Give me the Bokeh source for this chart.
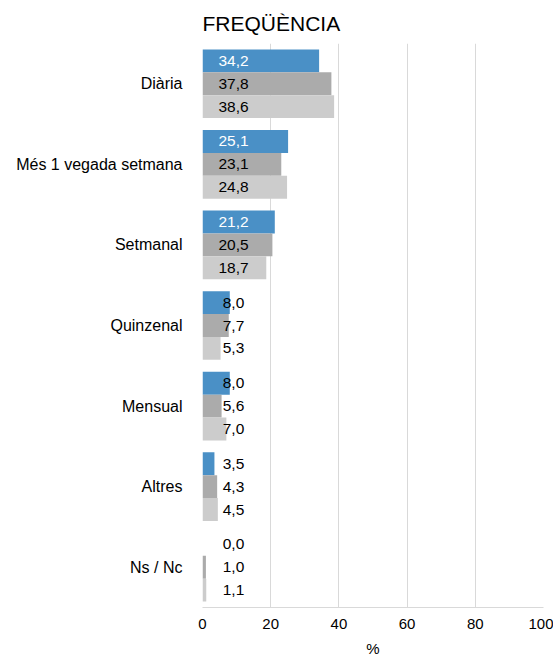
from bokeh.plotting import figure
from bokeh.models import ColumnDataSource, FactorRange, FixedTicker
from bokeh.transform import dodge
from bokeh.embed import file_html
from bokeh.resources import INLINE

categories = ["Diària", "Més 1 vegada setmana", "Setmanal", "Quinzenal", "Mensual", "Altres", "Ns / Nc"]
serie_a = [34.2, 25.1, 21.2, 8.0, 8.0, 3.5, 0.0]
serie_b = [37.8, 23.1, 20.5, 7.7, 5.6, 4.3, 1.0]
serie_c = [38.6, 24.8, 18.7, 5.3, 7.0, 4.5, 1.1]
x_ticks = [0, 20, 40, 60, 80, 100]

colors = ["#4A90C6", "#ABABAB", "#CCCCCC"]
series = [serie_a, serie_b, serie_c]
offsets = [0.284, 0.0, -0.284]

p = figure(width=553, height=659, output_backend="svg", toolbar_location=None,
           y_range=FactorRange(factors=list(reversed(categories)), range_padding=0),
           x_range=(0, 100), title="FREQÜÈNCIA",
           min_border_left=202, min_border_right=10, min_border_top=0, min_border_bottom=0)

p.title.text_font = "Liberation Sans"
p.title.text_font_size = "21px"
p.title.text_font_style = "normal"
p.title.text_color = "#000000"
p.title.align = "left"
p.title.offset = 0
p.title.standoff = 18

for i, (vals, col, off) in enumerate(zip(series, colors, offsets)):
    labels = [f"{v:.1f}".replace(".", ",") for v in vals]
    tcol = ["#FFFFFF" if (i == 0 and v > 15) else "#000000" for v in vals]
    src = ColumnDataSource(dict(cat=categories, val=vals, lab=labels, tcol=tcol, zero=[0]*len(vals)))
    p.hbar(y=dodge("cat", off, range=p.y_range), right="val", left=0, height=0.284,
           color=col, line_color=None, source=src)
    p.text(x="zero", y=dodge("cat", off, range=p.y_range), text="lab", source=src,
           x_offset=31, text_align="center", text_baseline="middle",
           text_font_size="15.5px", text_color="tcol", text_font={"value": "Liberation Sans"})

p.xaxis.ticker = FixedTicker(ticks=x_ticks)
p.xaxis.axis_label = "%"
p.xaxis.axis_label_text_font = "Liberation Sans"
p.xaxis.axis_label_text_font_size = "15px"
p.xaxis.axis_label_text_font_style = "normal"
p.xaxis.axis_label_text_color = "#000000"
p.xaxis.axis_label_standoff = 8
p.xaxis.major_label_text_font = "Liberation Sans"
p.xaxis.major_label_text_font_size = "15px"
p.xaxis.major_label_text_color = "#000000"
p.xaxis.major_label_standoff = 5
p.xaxis.axis_line_color = "#D9D9D9"
p.xaxis.major_tick_line_color = None
p.xaxis.minor_tick_line_color = None

p.yaxis.major_label_text_font = "Liberation Sans"
p.yaxis.major_label_text_font_size = "16px"
p.yaxis.major_label_text_color = "#000000"
p.yaxis.axis_line_color = None
p.yaxis.major_tick_line_color = None
p.yaxis.minor_tick_line_color = None
p.yaxis.major_label_standoff = 14

p.xgrid.grid_line_color = "#D9D9D9"
p.ygrid.grid_line_color = None
p.outline_line_color = None

open("out.html", "w").write(file_html(p, INLINE))
